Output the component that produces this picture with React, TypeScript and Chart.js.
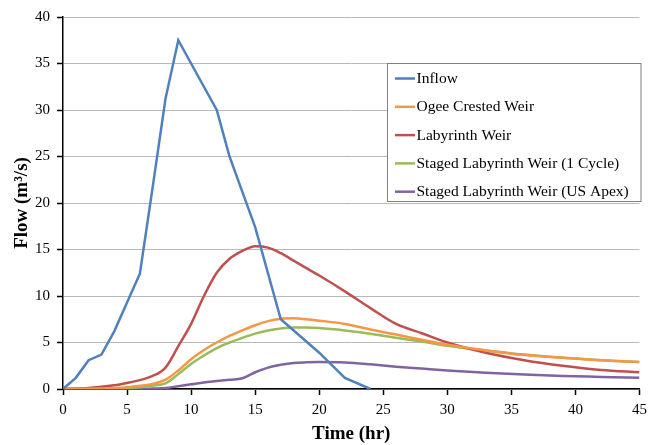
import React, { useEffect, useRef } from "react";
import { Chart, registerables } from "chart.js";

Chart.register(...registerables);

const inflowTime = [0, 1, 2, 3, 4, 5, 6, 7, 8, 9, 10, 11, 12, 13, 14, 15, 17, 20, 22, 24];
const inflowFlow = [0, 1.2, 3.1, 3.7, 6.2, 9.3, 12.4, 21.7, 31.2, 37.5, 35.0, 32.5, 30.0, 25.0, 21.2, 17.4, 7.5, 3.9, 1.2, 0];

const routedTime = [0, 2, 4, 5, 6, 7, 8, 9, 10, 11, 12, 13, 14, 15, 16, 17, 18, 19, 20, 22, 24, 26, 28, 30, 33, 36, 39, 42, 45];
const ogeeFlow = [0, 0.02, 0.1, 0.2, 0.35, 0.55, 1.0, 2.0, 3.2, 4.2, 5.0, 5.7, 6.3, 6.85, 7.3, 7.55, 7.6, 7.5, 7.35, 7.0, 6.4, 5.85, 5.3, 4.75, 4.15, 3.65, 3.35, 3.1, 2.9];
const labyrinthFlow = [0, 0.1, 0.4, 0.65, 0.95, 1.4, 2.3, 4.6, 7.0, 10.0, 12.5, 14.0, 14.85, 15.35, 15.2, 14.6, 13.8, 13.0, 12.2, 10.5, 8.7, 7.0, 6.0, 5.0, 3.9, 3.1, 2.5, 2.05, 1.8];
const staged1CycleFlow = [0, 0.01, 0.05, 0.1, 0.2, 0.35, 0.6, 1.6, 2.7, 3.6, 4.4, 5.0, 5.5, 5.95, 6.3, 6.5, 6.6, 6.6, 6.55, 6.3, 5.95, 5.5, 5.1, 4.65, 4.15, 3.7, 3.35, 3.1, 2.9];
const stagedUSApexFlow = [0, 0, 0, 0, 0, 0.05, 0.1, 0.3, 0.5, 0.7, 0.85, 1.0, 1.15, 1.8, 2.3, 2.6, 2.8, 2.87, 2.9, 2.85, 2.65, 2.4, 2.2, 2.0, 1.75, 1.55, 1.4, 1.3, 1.2];

const seriesLabels = [
  "Inflow",
  "Ogee Crested Weir",
  "Labyrinth Weir",
  "Staged Labyrinth Weir (1 Cycle)",
  "Staged Labyrinth Weir (US Apex)",
];
const seriesColors = ["#4F81BD", "#F79646", "#C0504D", "#9BBB59", "#8064A2"];

const xTicks = [0, 5, 10, 15, 20, 25, 30, 35, 40, 45];
const yTicks = [0, 5, 10, 15, 20, 25, 30, 35, 40];

const FONT = "'Liberation Serif', 'Times New Roman', serif";

const toPoints = (xs: number[], ys: number[]) => xs.map((x, i) => ({ x, y: ys[i] }));

const legendPlugin = {
  id: "insideLegend",
  afterDraw(chart: any) {
    const ctx = chart.ctx;
    const left = 387, top = 63, right = 641.5, bottom = 202;
    ctx.save();
    ctx.fillStyle = "#ffffff";
    ctx.fillRect(left, top, right - left, bottom - top);
    ctx.strokeStyle = "#7f7f7f";
    ctx.lineWidth = 1;
    ctx.strokeRect(left + 0.5, top + 0.5, right - left - 1, bottom - top - 1);
    ctx.font = `15.5px ${FONT}`;
    ctx.textBaseline = "middle";
    ctx.textAlign = "left";
    chart.data.datasets.forEach((ds: any, i: number) => {
      const y = 78.5 + i * 28.3;
      ctx.strokeStyle = ds.borderColor;
      ctx.lineWidth = 2.5;
      ctx.beginPath();
      ctx.moveTo(395, y);
      ctx.lineTo(415, y);
      ctx.stroke();
      ctx.fillStyle = "#000";
      ctx.fillText(ds.label, 416.5, y + 0.5);
    });
    ctx.restore();
  },
};

export default function App() {
  const canvasRef = useRef<HTMLCanvasElement | null>(null);

  useEffect(() => {
    if (!canvasRef.current) return;
    const seriesData = [
      toPoints(inflowTime, inflowFlow),
      toPoints(routedTime, ogeeFlow),
      toPoints(routedTime, labyrinthFlow),
      toPoints(routedTime, staged1CycleFlow),
      toPoints(routedTime, stagedUSApexFlow),
    ];
    const datasets = seriesData.map((data, i) => ({
      label: seriesLabels[i],
      data,
      borderColor: seriesColors[i],
      backgroundColor: seriesColors[i],
      borderWidth: 2.5,
      pointRadius: 0,
      fill: false,
      tension: i === 0 ? 0 : 0.4,
      cubicInterpolationMode: i === 0 ? "default" : "monotone",
    }));
    const chart = new Chart(canvasRef.current, {
      type: "line",
      data: { datasets: datasets as any },
      plugins: [legendPlugin],
      options: {
        responsive: false,
        animation: false,
        layout: { padding: { top: 17, right: 12, left: 0, bottom: 0 } },
        plugins: { legend: { display: false }, tooltip: { enabled: false } },
        scales: {
          x: {
            type: "linear",
            min: 0,
            max: 45,
            afterBuildTicks: (scale: any) => {
              scale.ticks = xTicks.map((v) => ({ value: v }));
            },
            afterFit: (scale: any) => {
              scale.height = 56;
            },
            border: { color: "#000", width: 1.5 },
            grid: { drawOnChartArea: false, drawTicks: true, tickLength: 6, tickColor: "#000", tickWidth: 1.5 },
            ticks: { color: "#000", font: { family: FONT, size: 15 }, padding: 6, maxRotation: 0 },
            title: {
              display: true,
              text: "Time (hr)",
              color: "#000",
              font: { family: FONT, size: 19, weight: "bold" },
              padding: { top: 0, bottom: 0 },
            },
          },
          y: {
            type: "linear",
            min: 0,
            max: 40,
            afterBuildTicks: (scale: any) => {
              scale.ticks = yTicks.map((v) => ({ value: v }));
            },
            afterFit: (scale: any) => {
              scale.width = 63;
            },
            border: { color: "#000", width: 1.5 },
            grid: { color: "#b9b9b9", lineWidth: 1, drawTicks: true, tickLength: 6, tickColor: "#000", tickWidth: 1.5 },
            ticks: { color: "#000", font: { family: FONT, size: 15 }, padding: 7 },
            title: {
              display: true,
              text: "Flow (m³/s)",
              color: "#000",
              font: { family: FONT, size: 19, weight: "bold" },
              padding: { top: 10.5, bottom: 0 },
            },
          },
        },
      } as any,
    });
    return () => chart.destroy();
  }, []);

  return (
    <div style={{ position: "fixed", left: 0, top: 0, width: 653, height: 445, background: "#fff" }}>
      <canvas ref={canvasRef} width={653} height={445} style={{ width: 653, height: 445, display: "block" }} />
    </div>
  );
}
